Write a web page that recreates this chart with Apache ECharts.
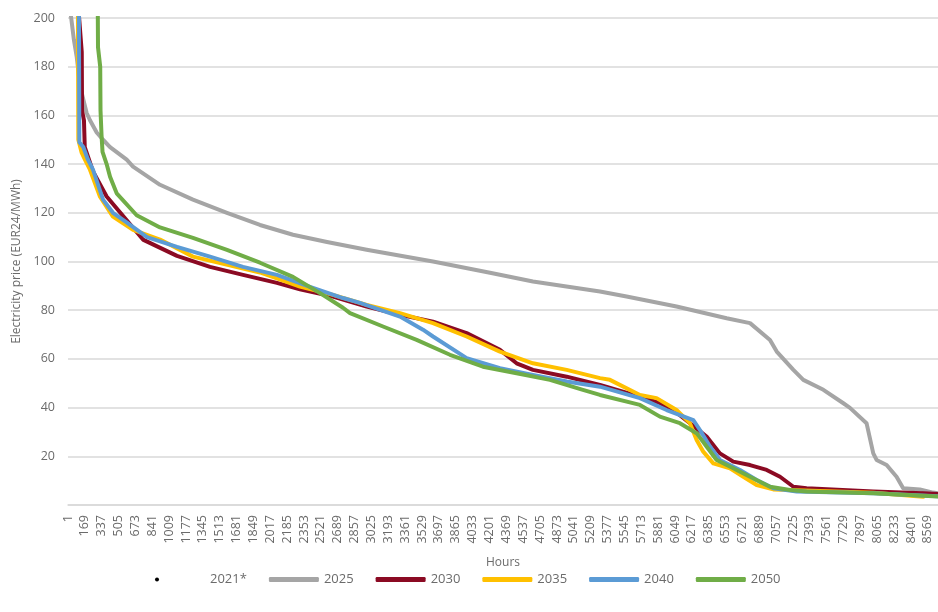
<!DOCTYPE html>
<html>
<head>
<meta charset="utf-8">
<script src="https://cdn.jsdelivr.net/npm/echarts@6/dist/echarts.min.js"></script>
<style>
html,body{margin:0;padding:0;background:#fff;}
#chart{width:938px;height:612px;}
</style>
</head>
<body>
<div id="chart"></div>
<script>
// Hours (sorted duration position) and prices (EUR24/MWh)
const hours2025 = [1, 30, 60, 88, 121, 187, 220, 287, 350, 420, 586, 649, 918, 1246, 1585, 1914, 2243, 2582, 2977, 3638, 4206, 4634, 5302, 5567, 6065, 6564, 6797, 6996, 7063, 7229, 7328, 7528, 7727, 7793, 7958, 8025, 8058, 8158, 8257, 8323, 8489, 8622, 8700];
const price2025 = [230, 201, 191, 184, 172, 161, 158, 153, 150, 147, 141.8, 139, 131.5, 125.4, 120, 115, 111, 108, 104.8, 100, 95.4, 91.8, 87.7, 85.6, 81.5, 76.7, 74.7, 67.8, 63, 55.5, 51.4, 47.3, 41.8, 39.9, 33.6, 21.2, 18.5, 16.4, 11.6, 6.9, 6.4, 5.1, 4.7];

const hours2030 = [1, 110, 138, 141, 160, 168, 250, 386, 748, 1087, 1416, 1745, 2083, 2312, 2641, 2977, 3309, 3638, 3973, 4305, 4471, 4634, 4970, 5302, 5700, 5899, 6032, 6198, 6364, 6497, 6630, 6797, 6963, 7096, 7229, 7361, 8025, 8522, 8700];
const price2030 = [260, 201, 186, 162, 158, 147, 137, 126.7, 109, 102.3, 97.8, 94.5, 91.2, 88.6, 85.6, 81.5, 78.1, 75.3, 70.6, 63.7, 58.2, 55.5, 52.7, 49.3, 44.5, 41.8, 39, 33.6, 28.1, 21.2, 17.8, 16.4, 14.4, 11.6, 7.5, 6.9, 5.5, 4.8, 4.5];

const hours2035 = [1, 100, 104, 137, 170, 220, 320, 449, 649, 918, 1246, 1914, 2312, 2641, 2977, 3309, 3638, 3973, 4305, 4634, 4970, 5302, 5401, 5700, 5866, 6065, 6198, 6265, 6331, 6431, 6597, 6730, 6863, 7029, 8025, 8522];
const price2035 = [260, 201, 150, 144.7, 141.8, 137.7, 126.6, 118.4, 113, 109, 102, 95.5, 89.7, 86.3, 82.2, 78.8, 74.7, 69.2, 63, 58.2, 55.5, 52.1, 51.4, 45.2, 43.9, 39, 33.6, 26.7, 21.9, 17.1, 15.1, 11.6, 8.2, 6.4, 5, 3.4];

const hours2040 = [1, 110, 114, 153, 200, 250, 350, 449, 589, 788, 1087, 1416, 1745, 2083, 2412, 2741, 2910, 3309, 3538, 3638, 3973, 4305, 4634, 4970, 5302, 5700, 5966, 6232, 6298, 6398, 6497, 6697, 6863, 7029, 7262, 8025, 8700];
const price2040 = [260, 201, 149, 147, 141.8, 137.7, 125.4, 120, 116, 110, 106, 102, 97.8, 94.5, 89.6, 85, 83, 77.4, 72, 69.2, 60.3, 56.2, 53.4, 50.7, 48.6, 43.9, 39, 34.9, 30.8, 24, 18.5, 14.4, 10.3, 6.9, 5.5, 4.8, 3.5];

const hours2050 = [1, 298, 300, 322, 325, 335, 345, 386, 420, 486, 685, 918, 1246, 1585, 1914, 2243, 2512, 2741, 2811, 3140, 3475, 3807, 4136, 4471, 4803, 5132, 5302, 5700, 5899, 6098, 6265, 6364, 6464, 6630, 6796, 6996, 7195, 7361, 8025, 8700];
const price2050 = [260, 201, 188, 180, 162, 152, 145, 140, 134.8, 128, 119, 114, 109.7, 104.8, 99.5, 93.7, 87, 81, 78.8, 73.3, 67.8, 61.7, 56.8, 54.1, 51.4, 47.3, 45.2, 41.1, 36.3, 33.6, 29.5, 24, 18.5, 15.1, 11.6, 7.5, 6.2, 5.5, 4.8, 3.4];

const seriesNames = ['2021*', '2025', '2030', '2035', '2040', '2050'];
const seriesColors = ['#000000', '#A5A5A5', '#8B0A23', '#FFC000', '#5B9BD5', '#70AD47'];
const yTicks = [0, 20, 40, 60, 80, 100, 120, 140, 160, 180, 200];

function pairs(h, p) { return h.map((x, i) => [x, p[i]]); }

const seriesData = [
  [],
  pairs(hours2025, price2025),
  pairs(hours2030, price2030),
  pairs(hours2035, price2035),
  pairs(hours2040, price2040),
  pairs(hours2050, price2050)
];

const FONT = '"Open Sans", "DejaVu Sans", sans-serif';
const TXT = '#6b6b6b';

const chart = echarts.init(document.getElementById('chart'), null, {renderer: 'canvas'});
chart.setOption({
  animation: false,
  backgroundColor: '#ffffff',
  textStyle: {fontFamily: FONT},
  grid: {left: 68, right: 0, top: 18, bottom: 107, containLabel: false},
  xAxis: {
    type: 'value',
    min: 1,
    max: 8670,
    interval: 168,
    name: 'Hours',
    nameLocation: 'middle',
    nameGap: 52,
    nameTextStyle: {color: TXT, fontSize: 12, fontFamily: FONT},
    axisLine: {show: true, lineStyle: {color: '#d9d9d9', width: 1.5}},
    axisTick: {show: false},
    splitLine: {show: false},
    axisLabel: {
      rotate: 90, margin: 10, color: TXT, fontSize: 12.5, fontFamily: FONT,
      showMaxLabel: false, showMinLabel: true,
      formatter: v => String(Math.round(v))
    }
  },
  yAxis: {
    type: 'value',
    min: yTicks[0],
    max: yTicks[yTicks.length - 1],
    interval: 20,
    name: 'Electricity price (EUR24/MWh)',
    nameLocation: 'middle',
    nameGap: 45,
    nameRotate: 90,
    nameTextStyle: {color: TXT, fontSize: 12, fontFamily: FONT},
    axisLine: {show: false},
    axisTick: {show: false},
    splitLine: {show: true, lineStyle: {color: '#d9d9d9', width: 1.5}},
    axisLabel: {
      margin: 13, color: TXT, fontSize: 12.5, fontFamily: FONT,
      formatter: v => (v === 0 ? '' : String(v))
    }
  },
  legend: {
    left: 150,
    top: 568,
    itemWidth: 50,
    itemHeight: 5,
    itemGap: 22,
    icon: 'roundRect',
    textStyle: {color: TXT, fontSize: 13, fontFamily: FONT, padding: [0, 0, 0, 0]},
    data: [
      {name: '2021*', icon: 'path://M0,2a2,2 0 1,0 4,0a2,2 0 1,0 -4,0Z M50,0 M50,4'},
      '2025', '2030', '2035', '2040', '2050'
    ]
  },
  series: seriesNames.map((n, i) => ({
    name: n,
    type: 'line',
    data: seriesData[i],
    showSymbol: false,
    symbol: 'none',
    clip: true,
    color: seriesColors[i],
    lineStyle: {width: i === 0 ? 0 : 4, color: seriesColors[i], join: 'round', cap: 'round'}
  }))
});
</script>
</body>
</html>
